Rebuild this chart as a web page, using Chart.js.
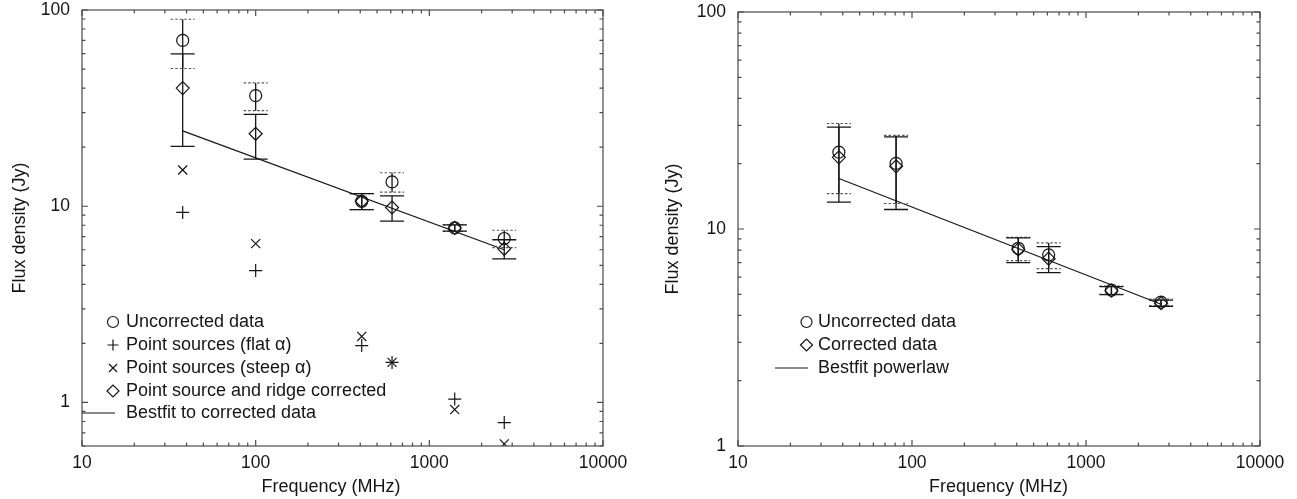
<!DOCTYPE html>
<html><head><meta charset="utf-8">
<script src="https://cdn.jsdelivr.net/npm/chart.js@4.4.1/dist/chart.umd.min.js"></script>
<style>
html,body{margin:0;padding:0;background:#fff;}
#w{position:relative;width:1297px;height:499px;overflow:hidden;background:#fff;}
#c1{position:absolute;left:0;top:0;}
#c2{position:absolute;left:640px;top:0;}
</style></head><body>
<div id="w"><canvas id="c1" width="640" height="499"></canvas><canvas id="c2" width="657" height="499"></canvas></div>
<script>
// ---------- data ----------
const xTickLabels = [10, 100, 1000, 10000];
const yTickLabelsL = [1, 10, 100];
const yTickLabelsR = [1, 10, 100];

// left panel
const freqL      = [38, 100, 408, 610, 1400, 2700];
const uncorrL    = [70, 36.6, 10.6, 13.3, 7.75, 6.85];
const uncorrErrL = [19.7, 5.9, 1.0, 1.5, 0.3, 0.7];
const corrL      = [40, 23.4, 10.6, 9.85, 7.75, 6.07];
const corrErrL   = [19.8, 6.0, 1.0, 1.45, 0.28, 0.68];
const flatL      = [9.3, 4.7, 1.95, 1.6, 1.04, 0.79];
const steepL     = [15.3, 6.45, 2.17, 1.6, 0.92, 0.615];
const fitFreqL   = [38, 2700];
const fitL       = [24.2, 6.0];

// right panel
const freqR      = [38, 81, 408, 610, 1400, 2700];
const uncorrR    = [22.6, 20.05, 8.15, 7.6, 5.23, 4.6];
const uncorrErrR = [8.05, 6.95, 1.0, 1.03, 0.23, 0.16];
const corrR      = [21.4, 19.45, 8.05, 7.3, 5.2, 4.55];
const corrErrR   = [8.1, 7.15, 1.05, 1.0, 0.22, 0.15];
const fitFreqR   = [38, 2700];
const fitR       = [17.1, 4.5];

// ---------- style ----------
const FONT = "'Liberation Sans', Arial, Helvetica, sans-serif";
const INK = '#151515';
const AXIS = '#4a4a4a';

const pts = (xs, ys) => xs.map((x, i) => ({x: x, y: ys[i]}));

function markerSet(label, xs, ys, style, r) {
  return {label, data: pts(xs, ys), showLine: false, pointStyle: style,
    pointRadius: r, pointHoverRadius: r, pointBorderWidth: 1.2, pointHoverBorderWidth: 1.2,
    borderColor: INK, backgroundColor: 'rgba(0,0,0,0)', pointBackgroundColor: 'rgba(0,0,0,0)'};
}
function lineSet(label, xs, ys) {
  return {label, data: pts(xs, ys), showLine: true, pointRadius: 0, pointHoverRadius: 0,
    borderColor: INK, borderWidth: 1.2, fill: false, tension: 0};
}

// frame + inward ticks
const framePlugin = {
  id: 'frame',
  afterDatasetsDraw(chart) {
    const {ctx, chartArea: a, scales: {x, y}} = chart;
    ctx.save();
    ctx.strokeStyle = AXIS; ctx.lineWidth = 1.2; ctx.setLineDash([]);
    ctx.strokeRect(a.left, a.top, a.right - a.left, a.bottom - a.top);
    ctx.beginPath();
    const each = (sc, fn) => {
      let d = Math.pow(10, Math.floor(Math.log10(sc.min) + 1e-9));
      for (; d <= sc.max * 1.0001; d *= 10) {
        for (let k = 1; k <= 9; k++) {
          const v = d * k;
          if (v < sc.min * 0.9999 || v > sc.max * 1.0001) continue;
          fn(sc.getPixelForValue(v), k === 1 ? 6 : 3.5);
        }
      }
    };
    each(x, (p, len) => {
      ctx.moveTo(p, a.bottom); ctx.lineTo(p, a.bottom - len);
      ctx.moveTo(p, a.top); ctx.lineTo(p, a.top + len);
    });
    each(y, (p, len) => {
      ctx.moveTo(a.left, p); ctx.lineTo(a.left + len, p);
      ctx.moveTo(a.right, p); ctx.lineTo(a.right - len, p);
    });
    ctx.stroke();
    ctx.restore();
  }
};

// error bars drawn through the chart's scales
const errPlugin = {
  id: 'errbars',
  afterDatasetsDraw(chart, args, opts) {
    const {ctx, scales: {x, y}} = chart;
    ctx.save();
    (opts.sets || []).forEach(s => {
      s.x.forEach((fx, i) => {
        const px = x.getPixelForValue(fx);
        const top = y.getPixelForValue(s.y[i] + s.e[i]);
        const bot = y.getPixelForValue(s.y[i] - s.e[i]);
        ctx.strokeStyle = INK; ctx.lineWidth = 1.3; ctx.setLineDash([]);
        ctx.beginPath(); ctx.moveTo(px, top); ctx.lineTo(px, bot); ctx.stroke();
        if (s.dashed) { ctx.setLineDash([2.5, 2]); ctx.strokeStyle = '#555'; ctx.lineWidth = 1.1; }
        ctx.beginPath();
        ctx.moveTo(px - 12, top); ctx.lineTo(px + 12, top);
        ctx.moveTo(px - 12, bot); ctx.lineTo(px + 12, bot);
        ctx.stroke();
      });
    });
    ctx.restore();
  }
};

// legend + x-axis title drawn inside the canvas
const keyPlugin = {
  id: 'key',
  afterDraw(chart, args, opts) {
    const ctx = chart.ctx;
    ctx.save();
    ctx.font = '18px ' + FONT;
    ctx.textBaseline = 'middle'; ctx.textAlign = 'left';
    (opts.items || []).forEach(it => {
      const sx = opts.sx, y = it.y;
      ctx.strokeStyle = INK; ctx.lineWidth = 1.2; ctx.setLineDash([]);
      ctx.beginPath();
      if (it.sym === 'circle') { ctx.arc(sx, y, 5.5, 0, Math.PI * 2); }
      else if (it.sym === 'plus') { ctx.moveTo(sx - 5.5, y); ctx.lineTo(sx + 5.5, y); ctx.moveTo(sx, y - 5.5); ctx.lineTo(sx, y + 5.5); }
      else if (it.sym === 'cross') { ctx.moveTo(sx - 4, y - 4); ctx.lineTo(sx + 4, y + 4); ctx.moveTo(sx + 4, y - 4); ctx.lineTo(sx - 4, y + 4); }
      else if (it.sym === 'diamond') { ctx.moveTo(sx - 6, y); ctx.lineTo(sx, y - 6); ctx.lineTo(sx + 6, y); ctx.lineTo(sx, y + 6); ctx.closePath(); }
      else if (it.sym === 'line') { ctx.moveTo(opts.lx0, y); ctx.lineTo(opts.lx1, y); }
      ctx.stroke();
      ctx.fillStyle = INK;
      ctx.fillText(it.text, opts.tx, y + 0.5);
    });
    // x-axis title
    ctx.textAlign = 'center';
    ctx.fillText(opts.xTitle, opts.xTitleX, 487);
    ctx.restore();
  }
};

function makeChart(id, c) {
  return new Chart(document.getElementById(id), {
    type: 'scatter',
    data: {datasets: c.datasets},
    options: {
      responsive: false, animation: false, devicePixelRatio: 1,
      layout: {padding: {left: 0, right: c.padR, top: c.padT, bottom: 0}},
      events: [],
      plugins: {legend: {display: false}, tooltip: {enabled: false},
        errbars: {sets: c.errs}, key: c.key},
      scales: {
        x: {type: 'logarithmic', position: 'bottom', min: 10, max: 10000,
          afterBuildTicks: s => { s.ticks = xTickLabels.map(v => ({value: v})); },
          afterFit: s => { s.height = 53; s.paddingLeft = 0; s.paddingRight = 0; },
          grid: {display: false, drawTicks: false}, border: {display: false},
          ticks: {color: INK, font: {family: FONT, size: 17.5}, padding: 7, maxRotation: 0, autoSkip: false,
            callback: v => String(v)},
          title: {display: false}},
        y: {type: 'logarithmic', position: 'left', min: c.ymin, max: 100,
          afterBuildTicks: s => { s.ticks = c.yTicks.map(v => ({value: v})); },
          afterFit: s => { s.width = c.yWidth; s.paddingTop = 0; s.paddingBottom = 0; },
          grid: {display: false, drawTicks: false}, border: {display: false},
          ticks: {color: INK, font: {family: FONT, size: 17.5}, padding: 12, autoSkip: false,
            callback: v => String(v)},
          title: {display: true, text: 'Flux density (Jy)', color: INK, font: {family: FONT, size: 18},
            padding: {top: c.titlePad, bottom: 0}}}
      }
    },
    plugins: [framePlugin, errPlugin, keyPlugin]
  });
}

makeChart('c1', {
  ymin: 0.6, yTicks: yTickLabelsL, yWidth: 82, padR: 37, padT: 10, titlePad: 9,
  datasets: [
    lineSet('Bestfit to corrected data', fitFreqL, fitL),
    markerSet('Uncorrected data', freqL, uncorrL, 'circle', 6),
    markerSet('Point sources (flat α)', freqL, flatL, 'cross', 6.5),
    markerSet('Point sources (steep α)', freqL, steepL, 'crossRot', 6.4),
    markerSet('Point source and ridge corrected', freqL, corrL, 'rectRot', 6.5)
  ],
  errs: [
    {x: freqL, y: uncorrL, e: uncorrErrL, dashed: true},
    {x: freqL, y: corrL, e: corrErrL, dashed: false}
  ],
  key: {sx: 113, tx: 126, lx0: 82, lx1: 115, xTitle: 'Frequency (MHz)', xTitleX: 331, items: [
    {sym: 'circle', text: 'Uncorrected data', y: 322},
    {sym: 'plus', text: 'Point sources (flat α)', y: 345},
    {sym: 'cross', text: 'Point sources (steep α)', y: 368},
    {sym: 'diamond', text: 'Point source and ridge corrected', y: 391},
    {sym: 'line', text: 'Bestfit to corrected data', y: 413}
  ]}
});

makeChart('c2', {
  ymin: 1, yTicks: yTickLabelsR, yWidth: 98, padR: 37, padT: 12, titlePad: 22.5,
  datasets: [
    lineSet('Bestfit powerlaw', fitFreqR, fitR),
    markerSet('Uncorrected data', freqR, uncorrR, 'circle', 6),
    markerSet('Corrected data', freqR, corrR, 'rectRot', 6.5)
  ],
  errs: [
    {x: freqR, y: uncorrR, e: uncorrErrR, dashed: true},
    {x: freqR, y: corrR, e: corrErrR, dashed: false}
  ],
  key: {sx: 166.5, tx: 178, lx0: 135, lx1: 168, xTitle: 'Frequency (MHz)', xTitleX: 358.5, items: [
    {sym: 'circle', text: 'Uncorrected data', y: 322},
    {sym: 'diamond', text: 'Corrected data', y: 345},
    {sym: 'line', text: 'Bestfit powerlaw', y: 368}
  ]}
});
</script>
</body></html>
